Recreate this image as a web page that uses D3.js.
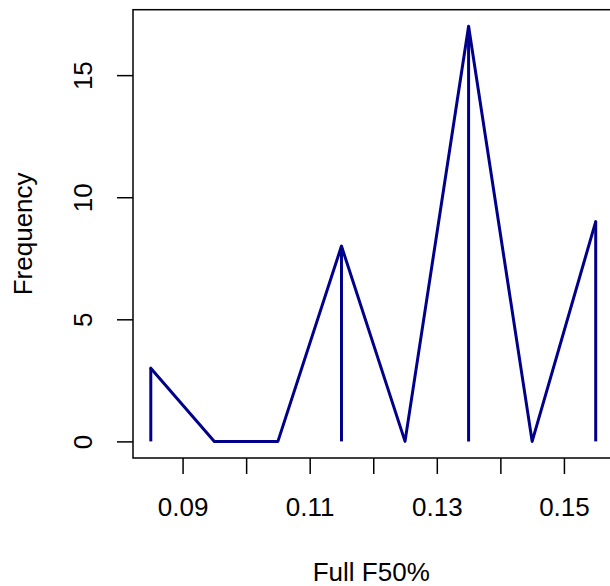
<!DOCTYPE html>
<html><head><meta charset="utf-8">
<script src="https://cdn.jsdelivr.net/npm/d3@7"></script>
<style>body{margin:0;background:#fff}svg{display:block}text{font-family:"Liberation Sans",Arial,sans-serif;fill:#000}</style>
</head><body>
<script>
const mids = [0.085, 0.095, 0.105, 0.115, 0.125, 0.135, 0.145, 0.155];
const freq = [3, 0, 0, 8, 0, 17, 0, 9];
const xTicks = [0.09, 0.10, 0.11, 0.12, 0.13, 0.14, 0.15];
const xLabels = ["0.09", "", "0.11", "", "0.13", "", "0.15"];
const yTicks = [0, 5, 10, 15];
const xTitle = "Full F50%";
const yTitle = "Frequency";

const W = 610, H = 586;
const L = 133, R = 613.5, T = 9.7, B = 458;
const svg = d3.select("body").append("svg").attr("width", W).attr("height", H);
const x = d3.scaleLinear().domain([0.0822, 0.1578]).range([L, R]);
const y = d3.scaleLinear().domain([-0.68, 17.68]).range([B, T]);
const fs = 26;

// box
svg.append("rect").attr("x", L).attr("y", T).attr("width", R - L).attr("height", B - T)
  .attr("fill", "none").attr("stroke", "#000").attr("stroke-width", 1.5);

// x axis
const xa = svg.append("g").attr("transform", `translate(0,${B})`)
  .call(d3.axisBottom(x).tickValues(xTicks).tickSize(16).tickFormat((d, i) => xLabels[i]));
xa.select(".domain").remove();
xa.selectAll("line").attr("stroke-width", 1.5);
xa.selectAll("text").attr("font-size", fs).attr("dy", null).attr("y", 58);

// y axis
const ya = svg.append("g").attr("transform", `translate(${L},0)`)
  .call(d3.axisLeft(y).tickValues(yTicks).tickSize(16).tickFormat(d3.format("d")));
ya.select(".domain").remove();
ya.selectAll("line").attr("stroke-width", 1.5);
ya.selectAll("text").attr("font-size", fs).attr("dy", null).attr("x", null)
  .attr("text-anchor", "middle")
  .attr("transform", "translate(-41,0) rotate(-90)");

// titles
svg.append("text").attr("x", (L + R) / 2 - 2).attr("y", 581).attr("text-anchor", "middle")
  .attr("font-size", fs).text(xTitle);
svg.append("text").attr("transform", `translate(32,${(T + B) / 2}) rotate(-90)`)
  .attr("text-anchor", "middle").attr("font-size", fs).text(yTitle);

const pts = mids.map((m, i) => ({ m, f: freq[i] }));
// vertical lines
svg.append("g").selectAll("line").data(pts.filter(d => d.f > 0)).join("line")
  .attr("x1", d => x(d.m)).attr("x2", d => x(d.m))
  .attr("y1", y(0)).attr("y2", d => y(d.f))
  .attr("stroke", "#00008B").attr("stroke-width", 3);
// polygon line
svg.append("path").datum(pts)
  .attr("d", d3.line().x(d => x(d.m)).y(d => y(d.f)))
  .attr("fill", "none").attr("stroke", "#00008B").attr("stroke-width", 3)
  .attr("stroke-linejoin", "round").attr("stroke-linecap", "round");
</script>
</body></html>
